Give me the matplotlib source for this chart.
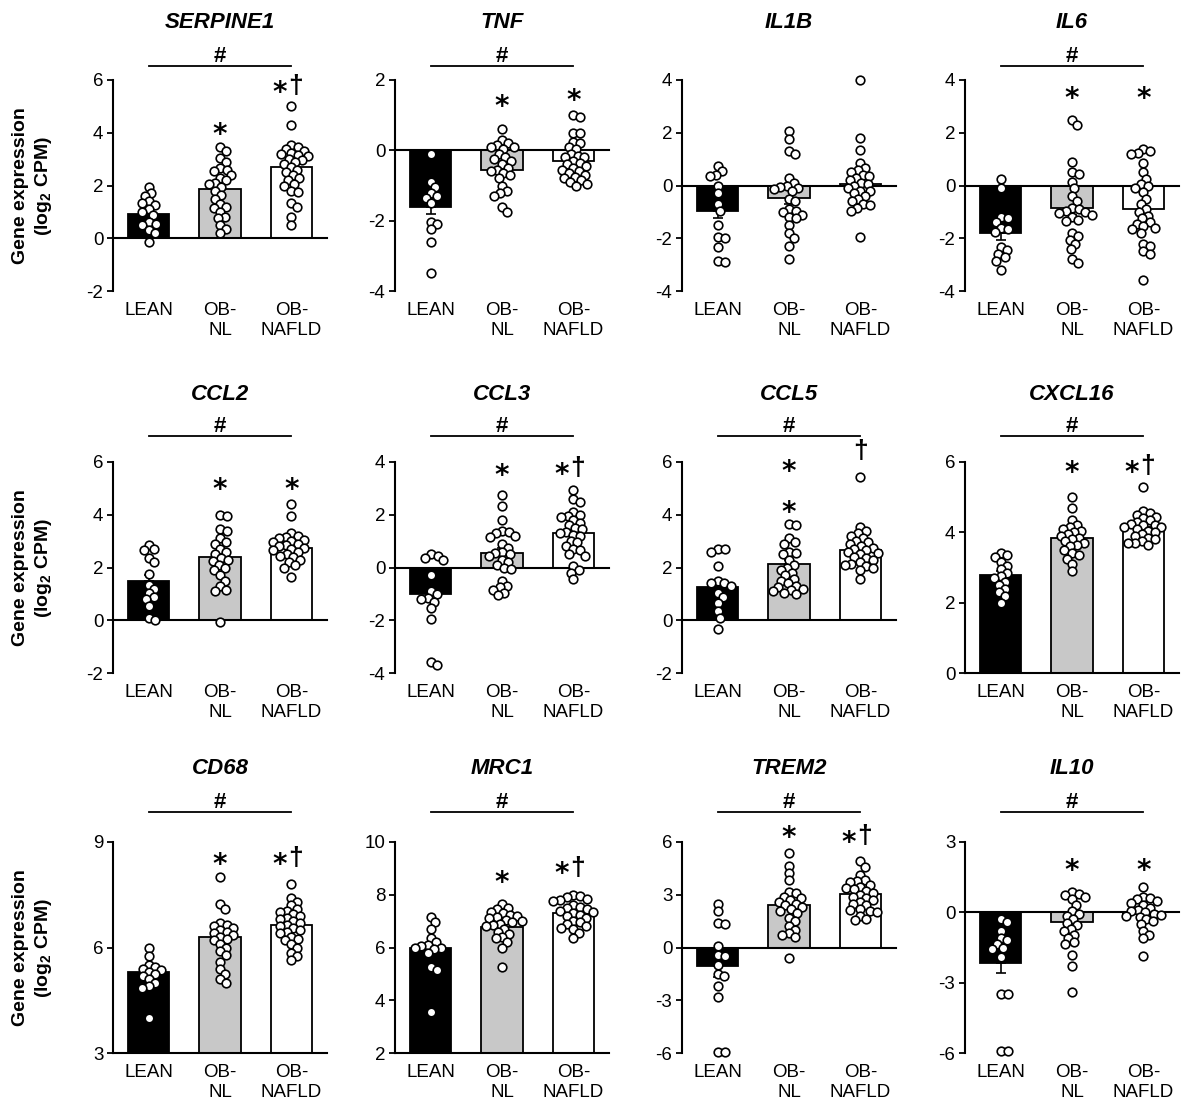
import matplotlib
matplotlib.use("Agg")
import matplotlib.pyplot as plt
import numpy as np

plt.rcParams['font.family'] = ['Liberation Sans', 'DejaVu Sans']
plt.rcParams['axes.unicode_minus'] = False
plt.rcParams['mathtext.fontset'] = 'custom'
plt.rcParams['mathtext.rm'] = 'Liberation Sans'
plt.rcParams['mathtext.bf'] = 'Liberation Sans:bold'

genes = ['SERPINE1', 'TNF', 'IL1B', 'IL6',
         'CCL2', 'CCL3', 'CCL5', 'CXCL16',
         'CD68', 'MRC1', 'TREM2', 'IL10']
groups = ['LEAN', 'OB-\nNL', 'OB-\nNAFLD']

# individual subjects, log2 CPM
lean = {
    'SERPINE1': [1.95, 1.7, 1.6, 1.4, 1.35, 1.25, 1.1, 1.0, 0.9, 0.6, 0.55, 0.5, 0.3, 0.2, -0.15],
    'TNF': [-0.1, -0.9, -1.05, -1.2, -1.3, -1.35, -1.5, -2.05, -2.1, -2.25, -2.6, -3.5],
    'IL1B': [0.75, 0.55, 0.4, 0.35, 0.0, -0.3, -0.7, -0.95, -1.5, -1.95, -2.0, -2.35, -2.85, -2.9],
    'IL6': [0.25, -0.1, -1.2, -1.25, -1.4, -1.6, -1.65, -1.75, -2.35, -2.45, -2.6, -2.7, -2.85, -3.2],
    'CCL2': [2.85, 2.7, 2.65, 2.35, 2.2, 1.75, 1.35, 1.2, 1.05, 0.9, 0.8, 0.55, 0.1, 0.0],
    'CCL3': [0.5, 0.45, 0.35, 0.3, -0.3, -0.9, -1.0, -1.15, -1.2, -1.3, -1.55, -1.95, -3.6, -3.7],
    'CCL5': [2.7, 2.7, 2.6, 2.05, 1.5, 1.4, 1.4, 1.3, 1.05, 0.9, 0.65, 0.35, 0.1, -0.35],
    'CXCL16': [3.4, 3.35, 3.3, 3.15, 3.05, 2.95, 2.85, 2.75, 2.7, 2.6, 2.5, 2.4, 2.3, 2.2, 2.0],
    'CD68': [6.0, 5.75, 5.5, 5.45, 5.4, 5.35, 5.3, 5.25, 5.2, 5.1, 5.0, 4.9, 4.85, 4.0],
    'MRC1': [7.15, 6.95, 6.7, 6.35, 6.2, 6.1, 6.05, 6.0, 6.0, 5.95, 5.8, 5.25, 5.15, 3.55],
    'TREM2': [2.5, 2.05, 1.4, 1.35, 0.1, -0.45, -0.5, -1.0, -1.5, -1.6, -2.2, -2.8, -5.95, -5.95],
    'IL10': [-0.3, -0.4, -0.8, -1.1, -1.2, -1.35, -1.5, -1.55, -1.9, -3.5, -3.5, -5.9, -5.9],
}
ob_nl = {
    'SERPINE1': [3.45, 3.3, 3.05, 2.9, 2.65, 2.6, 2.55, 2.4, 2.3, 2.2, 2.1, 2.05, 1.95, 1.8, 1.65,
                 1.5, 1.3, 1.2, 1.15, 1.0, 0.8, 0.75, 0.5, 0.35, 0.2],
    'TNF': [0.6, 0.3, 0.2, 0.15, 0.1, 0.1, 0.05, -0.1, -0.2, -0.25, -0.3, -0.4, -0.5, -0.55, -0.6,
            -0.65, -0.7, -0.8, -1.0, -1.15, -1.2, -1.3, -1.6, -1.75],
    'IL1B': [2.05, 1.75, 1.3, 1.2, 0.3, 0.1, 0.0, -0.05, -0.1, -0.15, -0.2, -0.5, -0.6, -0.9, -0.95,
             -1.0, -1.1, -1.2, -1.25, -1.5, -1.8, -2.0, -2.3, -2.8],
    'IL6': [2.5, 2.3, 0.9, 0.5, 0.45, 0.15, -0.1, -0.4, -0.6, -0.85, -0.9, -0.95, -1.0, -1.05, -1.1,
            -1.2, -1.3, -1.35, -1.8, -1.9, -2.05, -2.2, -2.4, -2.8, -2.95],
    'CCL2': [4.0, 3.95, 3.45, 3.4, 3.1, 2.95, 2.9, 2.7, 2.6, 2.5, 2.35, 2.3, 2.25, 2.1, 2.0, 1.9,
             1.7, 1.5, 1.3, 1.15, 1.1, -0.05],
    'CCL3': [2.75, 2.35, 1.8, 1.4, 1.35, 1.3, 1.2, 1.15, 0.9, 0.75, 0.6, 0.55, 0.5, 0.45, 0.3, 0.2,
             0.1, 0.0, -0.05, -0.5, -0.7, -0.75, -0.85, -0.95, -1.05],
    'CCL5': [3.65, 3.6, 3.1, 2.95, 2.9, 2.6, 2.55, 2.5, 2.3, 2.1, 2.0, 1.9, 1.8, 1.7, 1.55, 1.5,
             1.4, 1.3, 1.25, 1.2, 1.15, 1.1, 1.05, 1.0],
    'CXCL16': [5.0, 4.7, 4.35, 4.2, 4.15, 4.1, 4.05, 4.0, 3.95, 3.9, 3.85, 3.8, 3.75, 3.7, 3.65,
               3.6, 3.5, 3.4, 3.35, 3.25, 3.1, 2.9],
    'CD68': [8.0, 7.25, 7.1, 6.7, 6.65, 6.6, 6.55, 6.5, 6.45, 6.4, 6.35, 6.3, 6.25, 6.2, 6.1, 6.0,
             5.9, 5.8, 5.6, 5.4, 5.25, 5.1, 5.0],
    'MRC1': [7.65, 7.5, 7.45, 7.35, 7.3, 7.25, 7.2, 7.15, 7.1, 7.05, 7.0, 6.95, 6.9, 6.85, 6.8,
             6.7, 6.6, 6.5, 6.4, 6.35, 6.2, 6.0, 5.25],
    'TREM2': [5.4, 4.65, 4.25, 3.85, 3.15, 3.1, 2.9, 2.8, 2.7, 2.6, 2.5, 2.4, 2.3, 2.2, 2.1, 1.95,
              1.7, 1.5, 1.2, 1.0, 0.8, 0.7, 0.6, -0.6],
    'IL10': [0.85, 0.8, 0.75, 0.65, 0.55, 0.3, 0.05, -0.05, -0.15, -0.3, -0.45, -0.55, -0.7, -0.8,
             -0.95, -1.1, -1.25, -1.35, -1.8, -2.3, -3.4],
}
ob_nafld = {
    'SERPINE1': [5.0, 4.3, 3.55, 3.45, 3.4, 3.3, 3.25, 3.2, 3.15, 3.1, 3.0, 2.95, 2.9, 2.8, 2.7,
                 2.6, 2.5, 2.4, 2.3, 2.2, 2.05, 2.0, 1.8, 1.75, 1.35, 1.2, 0.8, 0.5],
    'TNF': [1.0, 0.95, 0.5, 0.5, 0.25, 0.2, 0.1, 0.05, -0.1, -0.15, -0.2, -0.2, -0.3, -0.35, -0.4,
            -0.45, -0.5, -0.55, -0.6, -0.65, -0.7, -0.75, -0.8, -0.85, -0.9, -0.95, -1.0],
    'IL1B': [4.0, 1.8, 1.35, 0.85, 0.65, 0.6, 0.5, 0.4, 0.35, 0.3, 0.2, 0.1, 0.05, 0.0, -0.1, -0.2,
             -0.2, -0.3, -0.4, -0.5, -0.6, -0.7, -0.75, -0.85, -0.95, -1.95],
    'IL6': [1.4, 1.3, 1.25, 1.2, 0.85, 0.5, 0.25, 0.05, 0.0, -0.1, -0.25, -0.5, -0.7, -0.9, -1.0,
            -1.15, -1.25, -1.4, -1.45, -1.55, -1.6, -1.65, -1.8, -2.2, -2.3, -2.5, -2.6, -3.6],
    'CCL2': [4.4, 3.95, 3.3, 3.2, 3.15, 3.1, 3.05, 3.0, 2.95, 2.9, 2.85, 2.8, 2.75, 2.7, 2.65,
             2.6, 2.5, 2.45, 2.4, 2.3, 2.2, 2.1, 2.0, 1.65],
    'CCL3': [2.95, 2.6, 2.5, 2.1, 2.0, 1.95, 1.9, 1.8, 1.7, 1.6, 1.5, 1.45, 1.35, 1.3, 1.25, 1.2,
             1.0, 0.95, 0.8, 0.7, 0.65, 0.5, 0.45, 0.05, -0.1, -0.2, -0.45],
    'CCL5': [5.45, 3.55, 3.4, 3.3, 3.2, 3.1, 3.0, 2.95, 2.9, 2.8, 2.75, 2.7, 2.65, 2.6, 2.55, 2.5,
             2.4, 2.35, 2.3, 2.2, 2.15, 2.1, 2.05, 2.0, 1.9, 1.55],
    'CXCL16': [5.3, 4.6, 4.55, 4.5, 4.45, 4.4, 4.35, 4.3, 4.25, 4.2, 4.2, 4.15, 4.15, 4.1, 4.05,
               4.0, 3.95, 3.9, 3.85, 3.8, 3.75, 3.7, 3.7, 3.65],
    'CD68': [7.8, 7.4, 7.3, 7.2, 7.1, 7.05, 7.0, 6.95, 6.9, 6.85, 6.8, 6.75, 6.7, 6.65, 6.6, 6.55,
             6.5, 6.45, 6.4, 6.3, 6.25, 6.2, 6.1, 6.0, 5.85, 5.75, 5.65],
    'MRC1': [8.0, 7.95, 7.9, 7.85, 7.8, 7.75, 7.6, 7.55, 7.5, 7.45, 7.4, 7.35, 7.3, 7.25, 7.2, 7.1,
             7.0, 6.95, 6.9, 6.8, 6.75, 6.7, 6.55, 6.35],
    'TREM2': [4.9, 4.6, 4.15, 3.85, 3.8, 3.7, 3.55, 3.45, 3.4, 3.3, 3.2, 3.1, 3.0, 2.9, 2.8, 2.7,
              2.6, 2.5, 2.4, 2.2, 2.15, 2.1, 2.0, 1.8, 1.6, 1.55],
    'IL10': [1.1, 0.65, 0.6, 0.55, 0.5, 0.4, 0.3, 0.2, 0.1, 0.05, 0.0, -0.05, -0.1, -0.15, -0.2,
             -0.3, -0.35, -0.5, -0.8, -0.95, -1.1, -1.85],
}

# group means and SEM (bar heights / error bars as drawn)
means = {
    'SERPINE1': [0.92, 1.85, 2.7], 'TNF': [-1.6, -0.55, -0.3], 'IL1B': [-0.95, -0.48, 0.05],
    'IL6': [-1.8, -0.85, -0.9], 'CCL2': [1.48, 2.38, 2.75], 'CCL3': [-1.02, 0.55, 1.3],
    'CCL5': [1.25, 2.15, 2.67], 'CXCL16': [2.8, 3.85, 4.15], 'CD68': [5.3, 6.3, 6.65],
    'MRC1': [5.98, 6.78, 7.3], 'TREM2': [-1.06, 2.4, 3.03], 'IL10': [-2.14, -0.43, -0.05],
}
sems = {
    'SERPINE1': [0.15, 0.17, 0.18], 'TNF': [0.22, 0.13, 0.1], 'IL1B': [0.3, 0.22, 0.2],
    'IL6': [0.25, 0.25, 0.22], 'CCL2': [0.22, 0.18, 0.12], 'CCL3': [0.3, 0.2, 0.15],
    'CCL5': [0.25, 0.15, 0.13], 'CXCL16': [0.1, 0.09, 0.07], 'CD68': [0.12, 0.12, 0.09],
    'MRC1': [0.2, 0.1, 0.08], 'TREM2': [0.6, 0.25, 0.15], 'IL10': [0.45, 0.22, 0.12],
}

yticks = {
    'SERPINE1': [-2, 0, 2, 4, 6], 'TNF': [-4, -2, 0, 2], 'IL1B': [-4, -2, 0, 2, 4],
    'IL6': [-4, -2, 0, 2, 4], 'CCL2': [-2, 0, 2, 4, 6], 'CCL3': [-4, -2, 0, 2, 4],
    'CCL5': [-2, 0, 2, 4, 6], 'CXCL16': [0, 2, 4, 6], 'CD68': [3, 6, 9],
    'MRC1': [2, 4, 6, 8, 10], 'TREM2': [-6, -3, 0, 3, 6], 'IL10': [-6, -3, 0, 3],
}

# significance labels: (group, text, height)
sig = {
    'SERPINE1': [(1, '*', 4.2), (2, '*†', 5.8)],
    'TNF': [(1, '*', 1.43), (2, '*', 1.62)],
    'IL1B': [],
    'IL6': [(1, '*', 3.56), (2, '*', 3.56)],
    'CCL2': [(1, '*', 5.2), (2, '*', 5.2)],
    'CCL3': [(1, '*', 3.75), (2, '*†', 3.8)],
    'CCL5': [(1, '*', 5.9), (1, '*', 4.35), (2, '†', 6.45)],
    'CXCL16': [(1, '*', 5.9), (2, '*†', 5.9)],
    'CD68': [(1, '*', 8.56), (2, '*†', 8.56)],
    'MRC1': [(1, '*', 8.74), (2, '*†', 9.05)],
    'TREM2': [(1, '*', 6.66), (2, '*†', 6.38)],
    'IL10': [(1, '*', 2.08), (2, '*', 2.08)],
}
overall = ['SERPINE1', 'TNF', 'IL6', 'CCL2', 'CCL3', 'CCL5', 'CXCL16', 'CD68', 'MRC1', 'TREM2', 'IL10']

bar_colors = ['black', '#c8c8c8', 'white']

FW, FH = 1186, 1106
col_left = [113, 395, 682, 965]
row_top = [80, 462, 842]
AW, AH = 214, 211
# pixels above axes top: (bracket line, '#', title)
row_head = [(14, 24, 58), (26, 36, 68), (30, 40, 74)]


def swarm(vals, ppu_x, ppu_y, d=7.0):
    # simple deterministic beeswarm in pixel space (points may overlap a little)
    ys = np.asarray(vals) * ppu_y
    order = np.argsort(-ys)
    placed = []
    xs = np.zeros(len(ys))
    for i in order:
        y = ys[i]
        cands = [0.0]
        for px, py in placed:
            dy = y - py
            if abs(dy) < d:
                dx = np.sqrt(d * d - dy * dy)
                cands += [px + dx, px - dx]
        cands.sort(key=abs)
        for c in cands:
            if all((c - px) ** 2 + (y - py) ** 2 >= d * d - 1e-6 for px, py in placed):
                break
        placed.append((c, y))
        xs[i] = c
    return xs / ppu_x


def sig_label(ax, x, y, text):
    px = 72 / 100
    star = dict(ha='center', va='baseline', fontsize=20, fontweight='bold',
                family='DejaVu Sans', annotation_clip=False, textcoords='offset points')
    dag = dict(ha='center', va='baseline', fontsize=19, fontweight='bold',
               annotation_clip=False, textcoords='offset points')
    if text == '*†':
        ax.annotate('*', (x, y), xytext=(-11.5 * px, -11), **star)
        ax.annotate('†', (x, y), xytext=(4 * px, -5.5), **dag)
    elif text == '*':
        ax.annotate('*', (x, y), xytext=(0, -11), **star)
    else:
        ax.annotate('†', (x, y), xytext=(0, -5.5), **dag)


fig = plt.figure(figsize=(FW / 100, FH / 100), dpi=100)

for k, gene in enumerate(genes):
    r, c = divmod(k, 4)
    ax = fig.add_axes([col_left[c] / FW, 1 - (row_top[r] + AH) / FH, AW / FW, AH / FH])
    ymin, ymax = yticks[gene][0], yticks[gene][-1]
    ax.set_xlim(-0.5, 2.5)
    ax.set_ylim(ymin, ymax)
    x = np.arange(3)
    m = means[gene]
    s = sems[gene]

    ax.bar(x, m, width=0.58, color=bar_colors, edgecolor='black', linewidth=1.3, zorder=2)
    lo = [si if mi < 0 else 0 for mi, si in zip(m, s)]
    hi = [si if mi >= 0 else 0 for mi, si in zip(m, s)]
    ax.errorbar(x, m, yerr=[lo, hi], fmt='none', ecolor='black', elinewidth=1.2,
                capsize=3.5, capthick=1.2, zorder=3)

    base = max(0, ymin)
    ax.axhline(base, color='black', lw=1.5, zorder=2.5, clip_on=False)

    ppu_x = AW / 3
    ppu_y = AH / (ymax - ymin)
    for g, pts in enumerate([lean[gene], ob_nl[gene], ob_nafld[gene]]):
        dx = swarm(pts, ppu_x, ppu_y)
        ax.plot(g + dx, pts, 'o', ms=6.2, mfc='white', mec='black', mew=1.2,
                zorder=4, clip_on=False)

    for g, text, yv in sig[gene]:
        sig_label(ax, g, yv, text)

    line_px, hash_px, title_px = row_head[r]
    tr = ax.get_xaxis_transform()
    if gene in overall:
        ax.plot([0, 2], [1 + line_px / AH] * 2, color='black', lw=1.3, transform=tr, clip_on=False)
        ax.text(1, 1 + hash_px / AH, '#', transform=tr, ha='center', va='center',
                fontsize=16, fontweight='bold')
    ax.text(1, 1 + title_px / AH, gene, transform=tr, ha='center', va='center',
            fontsize=16, fontweight='bold', fontstyle='italic')

    for side in ['top', 'right', 'bottom']:
        ax.spines[side].set_visible(False)
    ax.spines['left'].set_linewidth(1.5)
    ax.set_yticks(yticks[gene])
    ax.set_yticklabels([str(t) for t in yticks[gene]])
    ax.set_xticks(x)
    ax.set_xticklabels(groups)
    ax.tick_params(axis='x', length=0, labelsize=13.5, pad=8)
    ax.tick_params(axis='y', length=4, width=1.3, labelsize=13.5, pad=3)

for r in range(3):
    yc = 1 - (row_top[r] + AH / 2) / FH
    fig.text(33 / FW, yc, 'Gene expression\n(log$_\\mathbf{2}$ CPM)', rotation=90,
             ha='center', va='center', fontsize=14, fontweight='bold',
             linespacing=1.3, multialignment='center')

fig.savefig('out.png', dpi=100)
